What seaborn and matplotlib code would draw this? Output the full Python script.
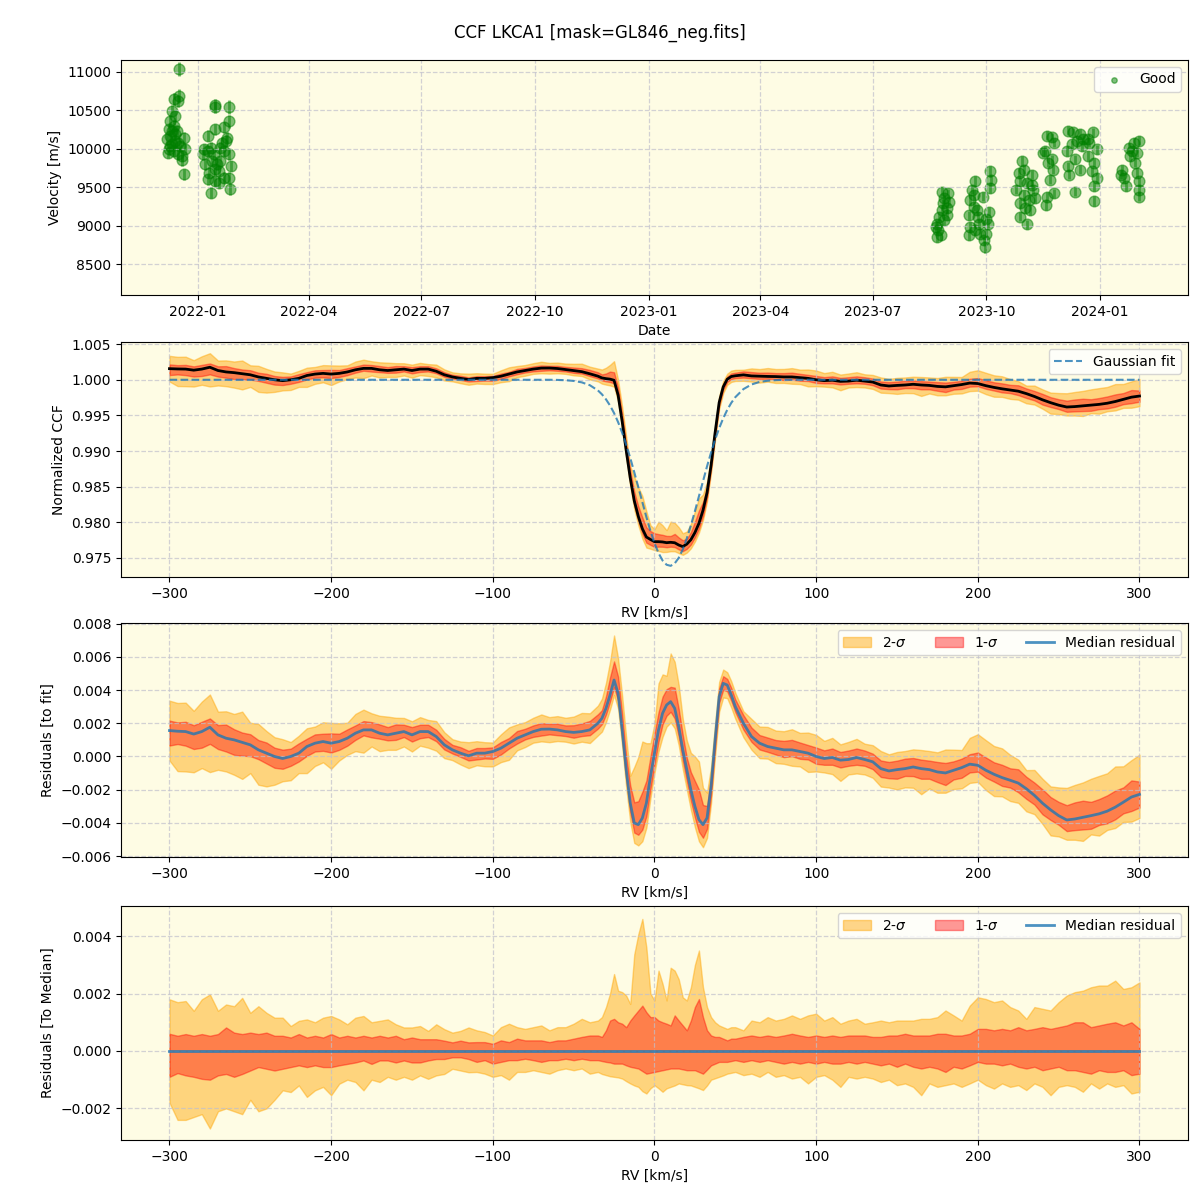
import numpy as np
import pandas as pd
import matplotlib
matplotlib.use('Agg')
import matplotlib.pyplot as plt
import matplotlib.dates as mdates
import seaborn as sns

# ---------------- velocity time series ("Good" points) ----------------
vel_dates = [
    '2021-12-17', '2021-12-13', '2021-12-17', '2021-12-16', '2021-12-11', '2021-12-14', '2021-12-10',
    '2021-12-13', '2021-12-09', '2021-12-15', '2021-12-10', '2021-12-21', '2021-12-07', '2021-12-14',
    '2021-12-11', '2021-12-18', '2021-12-09', '2021-12-22', '2021-12-13', '2021-12-16', '2021-12-08',
    '2021-12-19', '2021-12-21', '2021-12-14', '2021-12-16', '2021-12-11', '2021-12-19', '2021-12-10',
    '2022-01-15', '2022-01-15', '2022-01-26', '2022-01-26', '2022-01-09', '2022-01-15', '2022-01-22',
    '2022-01-06', '2022-01-05', '2022-01-09', '2022-01-12', '2022-01-14', '2022-01-07', '2022-01-10',
    '2022-01-09', '2022-01-12', '2022-01-15', '2022-01-18', '2022-01-19', '2022-01-17', '2022-01-22',
    '2022-01-24', '2022-01-25', '2022-01-21', '2022-01-26', '2022-01-28', '2022-01-26', '2022-01-27',
    '2022-01-22', '2022-01-18', '2022-01-15', '2022-01-13', '2022-01-19',
    '2023-08-22', '2023-08-23', '2023-08-22', '2023-08-24', '2023-08-26', '2023-08-27', '2023-08-28',
    '2023-08-26', '2023-08-31', '2023-09-01', '2023-08-30', '2023-08-25', '2023-08-21', '2023-08-28',
    '2023-08-30',
    '2023-09-22', '2023-09-19', '2023-09-18', '2023-09-21', '2023-09-17', '2023-09-18', '2023-09-17',
    '2023-09-24', '2023-09-25', '2023-09-22', '2023-09-26', '2023-09-28', '2023-09-29', '2023-09-30',
    '2023-10-01', '2023-10-02', '2023-10-03', '2023-10-01', '2023-10-04', '2023-10-05', '2023-10-04',
    '2023-09-21', '2023-09-23',
    '2023-10-30', '2023-10-27', '2023-10-31', '2023-11-07', '2023-10-28', '2023-11-03', '2023-10-25',
    '2023-11-08', '2023-10-31', '2023-11-04', '2023-10-28', '2023-11-09', '2023-11-01', '2023-10-28',
    '2023-11-03', '2023-11-05', '2023-11-07',
    '2023-11-19', '2023-11-23', '2023-11-16', '2023-11-25', '2023-11-20', '2023-11-24', '2023-11-21',
    '2023-11-19', '2023-11-18', '2023-11-25', '2023-11-17', '2023-11-23',
    '2023-12-06', '2023-12-10', '2023-12-16', '2023-12-05', '2023-12-09', '2023-12-13', '2023-12-17',
    '2023-12-06', '2023-12-12', '2023-12-16', '2023-12-07', '2023-12-12', '2023-12-18',
    '2023-12-26', '2023-12-23', '2023-12-29', '2023-12-22', '2023-12-27', '2023-12-25', '2023-12-29',
    '2023-12-27', '2023-12-27', '2023-12-22',
    '2024-01-19', '2024-01-20', '2024-01-22', '2024-01-18',
    '2024-01-24', '2024-01-28', '2024-02-01', '2024-01-25', '2024-01-31', '2024-01-29', '2024-01-31',
    '2024-02-01', '2024-02-01', '2024-02-01', '2024-01-27',
]
vel_values = [
    11035, 10644, 10687, 10622, 10492, 10426, 10361, 10296, 10252, 10230, 10165, 10143, 10122, 10100,
    10057, 10035, 9991, 9991, 9970, 9926, 9948, 9848, 9665, 10187, 10078, 10230, 9904, 10035,
    10570, 10535, 10535, 10352, 10165, 10252, 10274, 9991, 9926, 9970, 10013, 9926, 9796, 9687,
    9600, 9426, 9578, 9709, 9839, 9796, 9970, 10100, 10143, 10078, 9926, 9774, 9622, 9478,
    9622, 9557, 9730, 9839, 10013,
    8851, 8939, 9026, 9114, 9202, 9289, 9355, 9443, 9421, 9311, 9224, 8873, 8982, 9070, 9136,
    9575, 9465, 9333, 9246, 9136, 8982, 8873, 9114, 9026, 8939, 8895, 9377, 8807, 8719,
    8895, 9026, 9180, 9092, 9706, 9596, 9487, 9399, 9202,
    9838, 9684, 9728, 9662, 9575, 9553, 9465, 9465, 9399, 9333, 9289, 9355, 9224, 9114,
    9018, 9202, 9531,
    10167, 10145, 9947, 10079, 9816, 9728, 9596, 9377, 9267, 9421, 9969, 9860,
    10232, 10210, 10189, 9969, 10057, 10101, 10035, 9772, 9860, 9728, 9662, 9443, 10123,
    10210, 10079, 9991, 9903, 9816, 9706, 9618, 9509, 9320, 10123,
    9728, 9618, 9509, 9662,
    10013, 10079, 10101, 9903, 9947, 9816, 9684, 9575, 9465, 9377, 9969,
]
vel_errors = [
    90, 80, 90, 80, 70, 70, 80, 70, 70, 70, 70, 70, 70, 70,
    70, 70, 70, 70, 70, 70, 70, 70, 70, 70, 70, 70, 70, 70,
    70, 70, 90, 80, 70, 70, 70, 70, 70, 70, 70, 70, 70, 70,
    70, 70, 70, 70, 70, 70, 70, 70, 70, 70, 70, 70, 70, 80,
    70, 70, 70, 70, 70,
    60, 60, 60, 60, 60, 60, 60, 60, 60, 60, 60, 60, 60, 60, 60,
    70, 60, 60, 60, 60, 60, 60, 60, 60, 60, 60, 60, 60, 80,
    60, 60, 60, 60, 70, 60, 60, 60, 60,
    60, 60, 60, 60, 60, 60, 60, 60, 60, 60, 60, 60, 60, 60,
    60, 60, 60,
    60, 60, 60, 60, 60, 60, 60, 60, 60, 60, 60, 60,
    60, 60, 60, 60, 60, 60, 60, 60, 60, 60, 60, 60, 60,
    60, 60, 60, 60, 60, 60, 60, 60, 60, 60,
    60, 60, 60, 60,
    60, 60, 60, 60, 60, 60, 60, 60, 60, 60, 60,
]

# ---------------- CCF profile ----------------
# RV grid [km/s]: 5 km/s outside the line, 2.5 km/s across it
rv_grid = np.concatenate([np.arange(-300, -39, 5), np.arange(-35, 50.1, 2.5), np.arange(55, 301, 5)])

# median residual to the gaussian fit
median_resid = [
    0.00156, 0.00152, 0.0015, 0.00135, 0.0015, 0.00176, 0.0013, 0.0011, 0.001, 0.00085,
    0.0007, 0.0004, 0.0002, 0.0, -0.00012, 0.0, 0.0002, 0.0006, 0.0008, 0.0009,
    0.0008, 0.0009, 0.0011, 0.0014, 0.0016, 0.0016, 0.0014, 0.0013, 0.0014, 0.0015,
    0.0013, 0.0015, 0.0015, 0.0012, 0.0007, 0.0004, 0.0002, 0.00004, 0.0002, 0.0002,
    0.0003, 0.0005, 0.0008, 0.0011, 0.0013, 0.0015, 0.00164, 0.00165, 0.0016, 0.0015,
    0.00145, 0.0015, 0.0016,
    0.002, 0.0023, 0.0029, 0.0037, 0.0046, 0.0038, 0.0016, -0.0008, -0.0028, -0.004,
    -0.0041, -0.0037, -0.0028, -0.0012, 0.0002, 0.0016, 0.0026, 0.0031, 0.0033, 0.0029,
    0.0018, 0.0004, -0.0008, -0.002, -0.003, -0.0038, -0.0041, -0.0037, -0.0018, 0.001,
    0.0036, 0.0044, 0.0043, 0.0037, 0.003,
    0.002, 0.0012, 0.0008, 0.0006, 0.0005, 0.0004, 0.0004, 0.0003, 0.0002, 0.0,
    -0.00012, -0.00006, -0.00022, -0.00018, -0.00006, -0.00018, -0.00032, -0.00073, -0.00087, -0.00079,
    -0.00073, -0.00063, -0.00073, -0.00079, -0.00093, -0.00099, -0.00083, -0.00067, -0.00046, -0.00053,
    -0.00083, -0.00107, -0.00127, -0.00143, -0.0016, -0.00194, -0.00234, -0.00281, -0.00321, -0.00356,
    -0.00382, -0.00376, -0.00366, -0.00356, -0.00345, -0.00329, -0.00305, -0.00275, -0.00244, -0.00228,
]

# gaussian fit of the CCF
gauss_fit = [1.0] * 48 + [0.99998, 0.99994, 0.99984, 0.99964, 0.99924] + [
    0.99851, 0.99796, 0.99726, 0.99639, 0.99533, 0.99406, 0.99258, 0.9909, 0.98904, 0.98703,
    0.98494, 0.98281, 0.98074, 0.9788, 0.97709, 0.97569, 0.97465, 0.97405, 0.9739, 0.97424,
    0.97502, 0.9762, 0.97775, 0.97956, 0.98156, 0.98366, 0.98578, 0.98785, 0.9898, 0.99159,
    0.9932, 0.99459, 0.99578, 0.99676, 0.99756,
] + [0.99869, 0.99934, 0.9997, 0.99987, 0.99995] + [1.0] * 45

# spread of the individual CCFs around the median (percentile offsets)
sig2_hi = [
    0.0018, 0.0017, 0.00174, 0.0014, 0.0018, 0.00197, 0.0014, 0.00162, 0.00156, 0.00185,
    0.00133, 0.00156, 0.00133, 0.00116, 0.00116, 0.00087, 0.00105, 0.0011, 0.001, 0.00116,
    0.00122, 0.0011, 0.00093, 0.00116, 0.00122, 0.001, 0.00105, 0.0011, 0.00093, 0.00082,
    0.00082, 0.00087, 0.0007, 0.00093, 0.00076, 0.00064, 0.0007, 0.00082, 0.00072, 0.00066,
    0.00054, 0.00083, 0.00095, 0.00083, 0.00077, 0.00083, 0.00089, 0.00072, 0.00083, 0.00083,
    0.00095, 0.00112, 0.001,
    0.00106, 0.00118, 0.00153, 0.002, 0.00268, 0.0021, 0.00205, 0.00193, 0.00164, 0.00337,
    0.00407, 0.0046, 0.0036, 0.002, 0.00176, 0.0028, 0.00234, 0.00176, 0.0029, 0.0028,
    0.0025, 0.00187, 0.00176, 0.00222, 0.003, 0.0035, 0.00222, 0.00153, 0.00118, 0.001,
    0.00089, 0.00083, 0.00077, 0.00083, 0.00083,
    0.00072, 0.00106, 0.001, 0.00118, 0.00106, 0.00112, 0.00124, 0.00112, 0.00124, 0.0013,
    0.00106, 0.00118, 0.00095, 0.00106, 0.00112, 0.00095, 0.001, 0.00106, 0.001, 0.00106,
    0.00106, 0.00106, 0.00112, 0.00112, 0.00118, 0.00141, 0.00124, 0.00106, 0.00158, 0.00187,
    0.00181, 0.0017, 0.00176, 0.00153, 0.00141, 0.00112, 0.00153, 0.00147, 0.00141, 0.0017,
    0.00193, 0.00205, 0.0021, 0.00222, 0.00228, 0.00228, 0.00245, 0.00216, 0.00222, 0.00239,
]
sig1_hi = [
    0.0006, 0.00053, 0.00059, 0.00053, 0.00059, 0.00053, 0.00059, 0.00082, 0.00064, 0.00059,
    0.00064, 0.00059, 0.00064, 0.00053, 0.00053, 0.00047, 0.00059, 0.00047, 0.00053, 0.00047,
    0.00059, 0.00047, 0.00053, 0.00047, 0.00053, 0.00047, 0.00053, 0.00047, 0.00053, 0.00041,
    0.00047, 0.00041, 0.00041, 0.00041, 0.00036, 0.0003, 0.00036, 0.0003, 0.00031, 0.00031,
    0.00025, 0.00037, 0.00031, 0.00043, 0.00037, 0.00037, 0.00037, 0.00031, 0.00037, 0.00037,
    0.00043, 0.00049, 0.00054,
    0.00054, 0.00049, 0.00072, 0.00106, 0.00112, 0.001, 0.00095, 0.00083, 0.00106, 0.00124,
    0.00141, 0.00158, 0.00135, 0.00118, 0.00118, 0.00106, 0.001, 0.00095, 0.00089, 0.00124,
    0.00106, 0.00089, 0.00072, 0.00106, 0.00153, 0.00181, 0.00118, 0.00072, 0.00054, 0.00049,
    0.00049, 0.00043, 0.00037, 0.00043, 0.00043,
    0.00049, 0.00054, 0.00049, 0.00054, 0.00049, 0.00054, 0.0006, 0.00054, 0.00049, 0.00054,
    0.00049, 0.00054, 0.00049, 0.00054, 0.00054, 0.00054, 0.00049, 0.00049, 0.00054, 0.00054,
    0.0006, 0.00054, 0.00054, 0.00054, 0.0006, 0.0006, 0.00054, 0.00054, 0.0006, 0.00077,
    0.00077, 0.00072, 0.00077, 0.00072, 0.00083, 0.00072, 0.00077, 0.00083, 0.00077, 0.00083,
    0.00089, 0.001, 0.001, 0.00083, 0.00089, 0.00095, 0.001, 0.00089, 0.001, 0.00077,
]
sig1_lo = [
    -0.0009, -0.00077, -0.00085, -0.0009, -0.00097, -0.001, -0.00085, -0.0008, -0.0009, -0.0008,
    -0.00068, -0.00056, -0.00062, -0.00068, -0.00062, -0.00056, -0.0005, -0.00056, -0.0005, -0.00056,
    -0.00056, -0.0005, -0.00045, -0.0004, -0.00033, -0.00045, -0.00033, -0.00033, -0.0004, -0.00033,
    -0.0004, -0.0004, -0.00033, -0.00028, -0.00028, -0.00022, -0.00022, -0.00028, -0.00038, -0.00032,
    -0.00044, -0.00038, -0.00032, -0.00032, -0.00027, -0.00032, -0.00038, -0.00032, -0.00032, -0.00027,
    -0.00032, -0.00027, -0.00032,
    -0.00032, -0.00035, -0.00038, -0.0004, -0.00044, -0.00044, -0.00044, -0.0005, -0.00055, -0.00058,
    -0.00061, -0.0007, -0.00079, -0.00076, -0.00073, -0.0007, -0.00067, -0.00064, -0.00061, -0.00061,
    -0.00061, -0.00064, -0.00067, -0.00067, -0.00067, -0.00073, -0.00079, -0.00065, -0.0005, -0.00044,
    -0.00038, -0.00038, -0.00038, -0.00035, -0.00032,
    -0.00038, -0.00032, -0.00038, -0.00032, -0.00038, -0.00044, -0.00038, -0.00044, -0.00038, -0.00044,
    -0.00038, -0.00044, -0.00044, -0.00038, -0.00044, -0.00038, -0.00044, -0.0005, -0.00044, -0.00055,
    -0.00044, -0.00055, -0.00061, -0.00055, -0.00061, -0.00073, -0.00055, -0.00061, -0.0005, -0.00038,
    -0.00044, -0.00044, -0.0005, -0.00044, -0.00055, -0.00061, -0.00055, -0.00067, -0.00061, -0.00055,
    -0.00067, -0.00067, -0.00073, -0.00079, -0.00067, -0.00073, -0.00073, -0.00067, -0.00084, -0.00079,
]
sig2_lo = [
    -0.0018, -0.0024, -0.0024, -0.0023, -0.0022, -0.0027, -0.0021, -0.002, -0.0021, -0.0022,
    -0.0017, -0.0021, -0.002, -0.0017, -0.00137, -0.00143, -0.0012, -0.0016, -0.00137, -0.00125,
    -0.00154, -0.00114, -0.001, -0.00108, -0.00137, -0.001, -0.00108, -0.0009, -0.001, -0.0009,
    -0.001, -0.00085, -0.00097, -0.00085, -0.0008, -0.00062, -0.00068, -0.00074, -0.00073, -0.00079,
    -0.0009, -0.00084, -0.001, -0.00073, -0.00073, -0.00067, -0.00073, -0.00079, -0.00067, -0.00061,
    -0.00067, -0.00061, -0.00079,
    -0.00073, -0.0008, -0.00084, -0.00088, -0.0009, -0.00092, -0.00096, -0.00105, -0.00113, -0.0012,
    -0.00125, -0.0014, -0.00148, -0.0013, -0.00119, -0.0013, -0.00142, -0.0013, -0.00125, -0.0012,
    -0.00113, -0.00116, -0.00119, -0.0012, -0.00125, -0.0013, -0.00136, -0.0012, -0.001, -0.00095,
    -0.0009, -0.00085, -0.00079, -0.00076, -0.00073,
    -0.00084, -0.00079, -0.0009, -0.00073, -0.0009, -0.00084, -0.00096, -0.0009, -0.00113, -0.0009,
    -0.00084, -0.001, -0.00125, -0.0009, -0.00096, -0.0009, -0.00096, -0.00108, -0.001, -0.00119,
    -0.00113, -0.00125, -0.00154, -0.00113, -0.00125, -0.00119, -0.00113, -0.00125, -0.00113, -0.001,
    -0.00119, -0.00131, -0.00113, -0.00125, -0.00119, -0.00136, -0.00113, -0.00125, -0.00154, -0.00125,
    -0.00119, -0.00125, -0.00142, -0.00113, -0.00131, -0.00113, -0.00125, -0.00119, -0.00148, -0.00142,
]

ccf = pd.DataFrame({'rv': rv_grid, 'resid': median_resid, 'gauss': gauss_fit,
                    's2h': sig2_hi, 's1h': sig1_hi, 's1l': sig1_lo, 's2l': sig2_lo})
ccf['median'] = ccf['gauss'] + ccf['resid']
ccf['zero'] = 0.0

vel = pd.DataFrame({'date': pd.to_datetime(vel_dates), 'v': vel_values, 'err': vel_errors})

# ---------------- figure ----------------
bg = '#fefce4'
fig = plt.figure(figsize=(12, 12), dpi=100)
ax1 = fig.add_axes([0.1008, 0.7542, 0.8892, 0.1958])
ax2 = fig.add_axes([0.1008, 0.5192, 0.8892, 0.1958])
ax3 = fig.add_axes([0.1008, 0.2858, 0.8892, 0.1950])
ax4 = fig.add_axes([0.1008, 0.0500, 0.8892, 0.1950])
for ax in (ax1, ax2, ax3, ax4):
    ax.set_facecolor(bg)
    ax.grid(True, linestyle='--', color='#c0c0cc', alpha=0.7, linewidth=0.9)

# panel 1: velocities
ax1.errorbar(vel['date'], vel['v'], yerr=vel['err'], fmt='none', ecolor='green', alpha=0.5, elinewidth=2)
sns.scatterplot(data=vel, x='date', y='v', color='green', alpha=0.5, s=60, edgecolor='green',
                linewidth=1, label='Good', ax=ax1)
ax1.set_xlim(pd.Timestamp('2021-10-31'), pd.Timestamp('2024-03-12'))
ax1.set_ylim(8100, 11150)
ax1.xaxis.set_major_locator(mdates.MonthLocator(bymonth=[1, 4, 7, 10]))
ax1.xaxis.set_major_formatter(mdates.DateFormatter('%Y-%m'))
ax1.set_xlabel('Date')
ax1.set_ylabel('Velocity [m/s]')
ax1.legend(loc='upper right', markerscale=0.5)

# panel 2: normalized CCF
ax2.fill_between(ccf['rv'], ccf['median'] + ccf['s2l'], ccf['median'] + ccf['s2h'], color='orange', alpha=0.45)
ax2.fill_between(ccf['rv'], ccf['median'] + ccf['s1l'], ccf['median'] + ccf['s1h'], color='red', alpha=0.4)
sns.lineplot(data=ccf, x='rv', y='median', color='black', linewidth=2, sort=False, ax=ax2)
sns.lineplot(data=ccf, x='rv', y='gauss', color='tab:blue', alpha=0.8, linewidth=1.5, linestyle='--',
             sort=False, label='Gaussian fit', ax=ax2)
ax2.set_xlim(-330, 330)
ax2.set_ylim(0.97234, 1.0053)
ax2.set_xlabel('RV [km/s]')
ax2.set_ylabel('Normalized CCF')
ax2.legend(loc='upper right')

# panel 3: residuals to the fit
ax3.fill_between(ccf['rv'], ccf['resid'] + ccf['s2l'], ccf['resid'] + ccf['s2h'], color='orange', alpha=0.45,
                 label=r'2-$\sigma$')
ax3.fill_between(ccf['rv'], ccf['resid'] + ccf['s1l'], ccf['resid'] + ccf['s1h'], color='red', alpha=0.4,
                 label=r'1-$\sigma$')
sns.lineplot(data=ccf, x='rv', y='resid', color='tab:blue', alpha=0.8, linewidth=2, sort=False,
             label='Median residual', ax=ax3)
ax3.set_xlim(-330, 330)
ax3.set_ylim(-0.00605, 0.00803)
ax3.set_xlabel('RV [km/s]')
ax3.set_ylabel('Residuals [to fit]')
ax3.legend(loc='upper right', ncol=3)

# panel 4: residuals to the median
ax4.fill_between(ccf['rv'], ccf['s2l'], ccf['s2h'], color='orange', alpha=0.45, label=r'2-$\sigma$')
ax4.fill_between(ccf['rv'], ccf['s1l'], ccf['s1h'], color='red', alpha=0.4, label=r'1-$\sigma$')
sns.lineplot(data=ccf, x='rv', y='zero', color='tab:blue', alpha=0.8, linewidth=2, sort=False,
             label='Median residual', ax=ax4)
ax4.set_xlim(-330, 330)
ax4.set_ylim(-0.0031, 0.00505)
ax4.set_xlabel('RV [km/s]')
ax4.set_ylabel('Residuals [To Median]')
ax4.legend(loc='upper right', ncol=3)

fig.suptitle('CCF LKCA1 [mask=GL846_neg.fits]', fontsize=12, y=0.973, va='center')
fig.savefig('out.png', dpi=100)
